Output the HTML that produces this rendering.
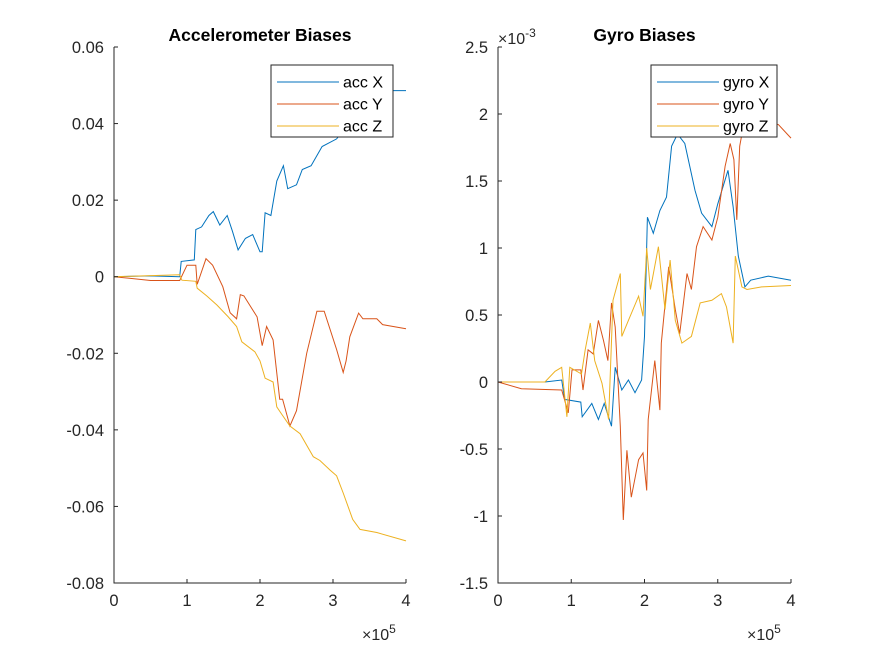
<!DOCTYPE html>
<html><head><meta charset="utf-8"><style>
body{margin:0;background:#fff}
svg{display:block;font-family:"Liberation Sans",Arial,sans-serif}
</style></head><body>
<svg id="fig" width="875" height="656" viewBox="0 0 875 656" xmlns="http://www.w3.org/2000/svg"></svg>
<script>
// ---- data (t in 1e5 units) ----
const accXt=[0,0.5,0.9,0.92,1.1,1.12,1.2,1.3,1.36,1.45,1.55,1.62,1.7,1.8,1.9,2.0,2.03,2.07,2.15,2.23,2.32,2.38,2.5,2.58,2.7,2.85,3.05,3.3,3.6,3.82,4.0];
const accXv=[0,0.0002,0,0.004,0.0044,0.0123,0.013,0.016,0.017,0.0135,0.016,0.012,0.007,0.01,0.011,0.0065,0.0065,0.0167,0.016,0.025,0.029,0.023,0.024,0.028,0.029,0.034,0.036,0.042,0.047,0.0486,0.0486];
const accYt=[0,0.5,0.9,1.0,1.12,1.14,1.26,1.35,1.49,1.59,1.68,1.73,1.78,1.96,2.03,2.09,2.18,2.27,2.31,2.41,2.5,2.64,2.78,2.88,3.05,3.14,3.18,3.23,3.35,3.41,3.6,3.68,4.0];
const accYv=[0,-0.001,-0.001,0.003,0.003,-0.002,0.0047,0.003,-0.0026,-0.0094,-0.011,-0.0047,-0.005,-0.0105,-0.018,-0.013,-0.0165,-0.032,-0.032,-0.039,-0.035,-0.020,-0.009,-0.009,-0.019,-0.025,-0.022,-0.0157,-0.0095,-0.011,-0.011,-0.0125,-0.0136];
const accZt=[0,0.9,0.93,1.12,1.14,1.27,1.41,1.56,1.68,1.75,1.93,2.0,2.07,2.18,2.23,2.3,2.41,2.55,2.73,2.82,2.96,3.05,3.14,3.27,3.37,3.6,4.0];
const accZv=[0,0.0005,-0.0009,-0.0012,-0.003,-0.005,-0.0074,-0.0104,-0.013,-0.017,-0.0196,-0.022,-0.0265,-0.0275,-0.034,-0.036,-0.039,-0.041,-0.047,-0.048,-0.0505,-0.052,-0.0565,-0.0634,-0.066,-0.0668,-0.069];
const gyXt=[0,0.64,0.87,0.91,1.13,1.15,1.28,1.37,1.45,1.55,1.6,1.69,1.78,1.87,1.96,2.0,2.04,2.12,2.21,2.3,2.37,2.45,2.55,2.69,2.78,2.92,3.0,3.14,3.21,3.28,3.37,3.45,3.69,4.0];
const gyXv=[0,0,0.015,-0.13,-0.15,-0.26,-0.16,-0.28,-0.16,-0.33,0.11,-0.06,0.015,-0.08,0.015,0.34,1.23,1.11,1.28,1.38,1.76,1.85,1.78,1.43,1.26,1.16,1.33,1.58,1.31,0.94,0.71,0.76,0.79,0.76];
const gyYt=[0,0.32,0.87,0.96,1.01,1.13,1.16,1.23,1.3,1.37,1.44,1.5,1.55,1.6,1.67,1.71,1.76,1.82,1.92,1.98,2.03,2.05,2.14,2.21,2.23,2.33,2.42,2.48,2.58,2.64,2.71,2.8,2.92,3.0,3.1,3.17,3.22,3.26,3.3,3.38,3.83,4.0];
const gyYv=[0,-0.05,-0.06,-0.23,0.09,0.09,-0.06,0.24,0.21,0.46,0.31,0.16,0.59,0.41,-0.33,-1.03,-0.51,-0.86,-0.58,-0.53,-0.81,-0.28,0.16,-0.21,0.29,0.86,0.54,0.36,0.81,0.69,1.01,1.16,1.06,1.23,1.61,1.78,1.66,1.21,1.76,2.0,1.92,1.82];
const gyZt=[0,0.64,0.78,0.87,0.94,0.98,1.14,1.19,1.26,1.32,1.42,1.51,1.57,1.67,1.69,1.78,1.92,1.98,2.03,2.08,2.19,2.28,2.35,2.42,2.51,2.64,2.76,2.92,3.05,3.12,3.21,3.24,3.33,3.4,3.6,4.0];
const gyZv=[0,0,0.08,0.11,-0.26,0.11,0.06,0.24,0.44,0.16,-0.01,-0.28,0.61,0.81,0.34,0.46,0.64,0.49,1.0,0.69,1.01,0.54,0.91,0.46,0.29,0.34,0.59,0.61,0.66,0.56,0.29,0.94,0.71,0.69,0.71,0.72];
const xTicks=[0,1,2,3,4];
const accTicks=[0.06,0.04,0.02,0,-0.02,-0.04,-0.06,-0.08];
const accTickLabels=["0.06","0.04","0.02","0","-0.02","-0.04","-0.06","-0.08"];
const gyTicks=[2.5,2,1.5,1,0.5,0,-0.5,-1,-1.5];
const gyTickLabels=["2.5","2","1.5","1","0.5","0","-0.5","-1","-1.5"];
const C=["#0072BD","#D95319","#EDB120"];
const NS="http://www.w3.org/2000/svg";
const svg=document.getElementById('fig');
function mk(tag,attrs,parent){const e=document.createElementNS(NS,tag);for(const k in attrs)e.setAttribute(k,attrs[k]);(parent||svg).appendChild(e);return e;}
function panel(cfg){
  const g=mk('g',{});
  
  
  const x0=cfg.x0,x1=cfg.x1,yT=47,yB=583;
  const sx=t=>x0+(t-0)/(4-0)*(x1-x0);
  const sy=v=>yT+(cfg.ymax-v)/(cfg.ymax-cfg.ymin)*(yB-yT);
  cfg.series.forEach((s,i)=>{
    const d=s.t.map((t,j)=>(j?'L':'M')+sx(t).toFixed(1)+','+sy(s.v[j]).toFixed(1)).join('');
    const p=mk('path',{d:d,fill:'none',stroke:C[i],'stroke-width':1},g);
    
    
  });
  const ax=mk('path',{d:`M${x0},${yT}L${x0},${yB}L${x1},${yB}`,fill:'none',stroke:'#262626','stroke-width':1},g);
  
  
  xTicks.forEach(t=>{
    mk('line',{x1:sx(t),x2:sx(t),y1:yB,y2:yB-4,stroke:'#262626'},g);
    const tx=mk('text',{x:sx(t),y:yB+23,'text-anchor':'middle','font-size':16.5,fill:'#262626'},g);
    tx.textContent=t;
    
    
  });
  cfg.ticks.forEach((v,i)=>{
    mk('line',{x1:x0,x2:x0+4,y1:sy(v),y2:sy(v),stroke:'#262626'},g);
    const tx=mk('text',{x:x0-10,y:sy(v)+6,'text-anchor':'end','font-size':16.5,fill:'#262626'},g);
    tx.textContent=cfg.labels[i];
    
    
  });
  const ti=mk('text',{x:(x0+x1)/2,y:41,'text-anchor':'middle','font-size':17.5,'font-weight':'bold',fill:'#000'},g);
  ti.textContent=cfg.title;
  
  
  const xe=mk('text',{x:x1-44,y:640,'font-size':16,fill:'#262626'},g);
  xe.innerHTML='×10<tspan dy="-7" font-size="12">5</tspan>';
  
  
  if(cfg.yexp){
    const ye=mk('text',{x:x0,y:44,'font-size':16,fill:'#262626'},g);
    ye.innerHTML='×10<tspan dy="-7" font-size="12">-3</tspan>';
    
    
  }
  const lg=mk('g',{},g);
  
  
  mk('rect',{x:cfg.lx,y:65,width:cfg.lw,height:72,fill:'#fff',stroke:'#262626'},lg);
  cfg.series.forEach((s,i)=>{
    const y=82+i*22;
    mk('line',{x1:cfg.lx+6,x2:cfg.lx+68,y1:y,y2:y,stroke:C[i]},lg);
    const t=mk('text',{x:cfg.lx+72,y:y+5.5,'font-size':16,fill:'#000'},lg);
    t.textContent=s.label;
    
    
  });
}
panel({name:'accelerometer-chart',x0:114,x1:406,ymax:0.06,ymin:-0.08,ticks:accTicks,labels:accTickLabels,title:'Accelerometer Biases',lx:271,lw:122,yexp:false,
  series:[{name:'acc-x',label:'acc X',t:accXt,v:accXv},{name:'acc-y',label:'acc Y',t:accYt,v:accYv},{name:'acc-z',label:'acc Z',t:accZt,v:accZv}]});
panel({name:'gyro-chart',x0:498,x1:791,ymax:2.5,ymin:-1.5,ticks:gyTicks,labels:gyTickLabels,title:'Gyro Biases',lx:651,lw:126,yexp:true,
  series:[{name:'gyro-x',label:'gyro X',t:gyXt,v:gyXv},{name:'gyro-y',label:'gyro Y',t:gyYt,v:gyYv},{name:'gyro-z',label:'gyro Z',t:gyZt,v:gyZv}]});
</script>
</body></html>
